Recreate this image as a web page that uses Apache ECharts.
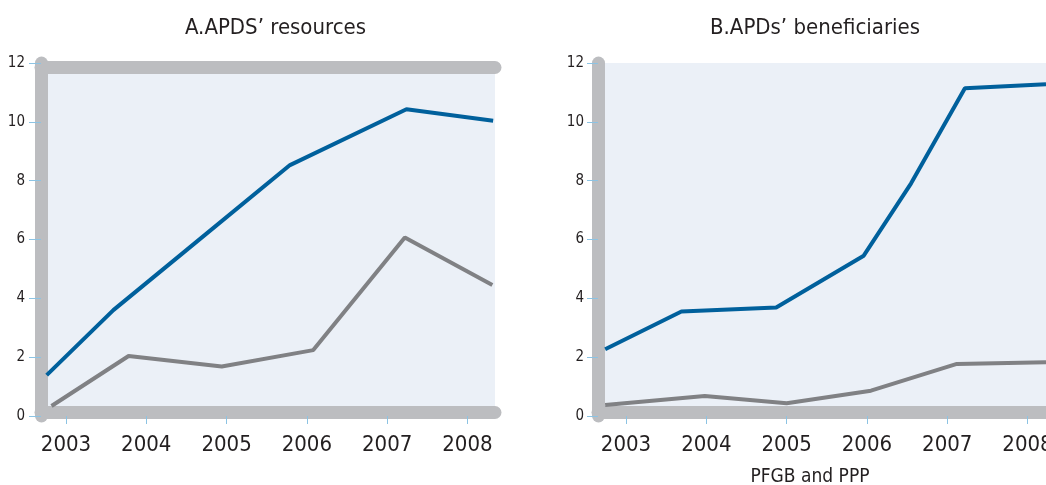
<!DOCTYPE html>
<html>
<head>
<meta charset="utf-8">
<script src="https://cdn.jsdelivr.net/npm/echarts@6/dist/echarts.min.js"></script>
<style>
  html, body { margin: 0; padding: 0; background: #fff; }
  #chart { width: 1046px; height: 485px; }
</style>
</head>
<body>
<div id="chart"></div>
<script>
const yearTicks = [2003, 2004, 2005, 2006, 2007, 2008]
const valueTicks = [0, 2, 4, 6, 8, 10, 12]

// A. resources (x = position in years)
const resBlueX = [2002.76, 2003.59, 2004.5, 2005.79, 2007.24, 2008.32]
const resBlueY = [1.39, 3.6, 5.64, 8.53, 10.43, 10.04]
const resGrayX = [2002.82, 2003.78, 2004.94, 2006.08, 2007.22, 2008.31]
const resGrayY = [0.34, 2.04, 1.68, 2.24, 6.07, 4.45]

// B. beneficiaries
const benBlueX = [2002.74, 2003.69, 2004.87, 2005.96, 2006.55, 2007.22, 2008.23]
const benBlueY = [2.27, 3.55, 3.69, 5.45, 7.91, 11.14, 11.28]
const benGrayX = [2002.74, 2003.98, 2005.0, 2006.05, 2007.12, 2008.23]
const benGrayY = [0.37, 0.68, 0.43, 0.86, 1.77, 1.83]

const FONT = "'Liberation Sans Narrow', 'DejaVu Sans Condensed', 'Roboto', sans-serif"
const TEXT = '#231f20'
const FRAME = '#bcbdc0'
const TICK = '#8cc3e3'
const BLUE = '#00609c'
const GRAY = '#808184'

const zip = (xs, ys) => xs.map((x, i) => [x, ys[i]])

const ranges = [
  { min: 2002.689, max: 2008.343 },
  { min: 2002.651, max: 2008.23 },
]

function tickAxis(grid) {
  return {
    type: 'value',
    gridIndex: grid,
    position: 'bottom',
    offset: 4,
    ...ranges[grid],
    axisLine: { show: false },
    axisTick: { show: true, length: 8, customValues: yearTicks, lineStyle: { color: TICK, width: 1 } },
    axisLabel: {
      customValues: yearTicks,
      formatter: (v) => String(v),
      margin: 14,
      color: TEXT,
      fontSize: 22,
      fontFamily: FONT,
    },
    splitLine: { show: false },
  }
}

function barAxis(grid, position, offset) {
  return {
    type: 'value',
    gridIndex: grid,
    position,
    offset,
    ...ranges[grid],
    axisLine: { show: true, lineStyle: { color: FRAME, width: 13, cap: 'round' } },
    axisTick: { show: false },
    axisLabel: { show: false },
    splitLine: { show: false },
  }
}

// frame bar on the left, ticks come from a second axis on top of it
function yBar(grid) {
  return {
    type: 'value',
    gridIndex: grid,
    position: 'left',
    min: 0,
    max: 12,
    interval: 2,
    axisLine: { show: true, lineStyle: { color: FRAME, width: 13, cap: 'round' } },
    axisTick: { show: false },
    axisLabel: { show: false },
    splitLine: { show: false },
  }
}

function valueAxis(grid, tickLen, margin) {
  return {
    type: 'value',
    gridIndex: grid,
    position: 'left',
    z: 2,
    min: 0,
    max: 12,
    interval: 2,
    axisLine: { show: false },
    axisTick: { show: true, length: tickLen, customValues: valueTicks, lineStyle: { color: TICK, width: 1 } },
    axisLabel: { customValues: valueTicks, margin, color: TEXT, fontSize: 15, fontFamily: FONT },
    splitLine: { show: false },
  }
}

function lineSeries(x, y, data, color) {
  return {
    type: 'line',
    xAxisIndex: x,
    yAxisIndex: y,
    data,
    showSymbol: false,
    lineStyle: { color, width: 4 },
    itemStyle: { color },
    z: 3,
  }
}

const chart = echarts.init(document.getElementById('chart'))

chart.setOption({
  animation: false,
  graphic: [
    { type: 'text', x: 275.5, y: 28, style: { text: 'A.APDS’ resources', fill: TEXT, font: '22px ' + FONT, align: 'center', verticalAlign: 'middle' } },
    { type: 'text', x: 815, y: 28, style: { text: 'B.APDs’ beneficiaries', fill: TEXT, font: '22px ' + FONT, align: 'center', verticalAlign: 'middle' } },
    { type: 'text', x: 810, y: 477, style: { text: 'PFGB and PPP', fill: TEXT, font: '19px ' + FONT, align: 'center', verticalAlign: 'middle' } },
  ],
  grid: [
    { left: 41, top: 63, width: 454, height: 353, show: true, backgroundColor: '#ebf0f7', borderWidth: 0, outerBoundsMode: 'none' },
    { left: 598, top: 63, width: 448, height: 353, show: true, backgroundColor: '#ebf0f7', borderWidth: 0, outerBoundsMode: 'none' },
  ],
  xAxis: [
    tickAxis(0),
    barAxis(0, 'bottom', -3.5),
    barAxis(0, 'top', -4),
    tickAxis(1),
    barAxis(1, 'bottom', -3.5),
  ],
  yAxis: [
    yBar(0),
    valueAxis(0, 12, 16),
    yBar(1),
    valueAxis(1, 11, 14),
  ],
  series: [
    lineSeries(0, 1, zip(resGrayX, resGrayY), GRAY),
    lineSeries(0, 1, zip(resBlueX, resBlueY), BLUE),
    lineSeries(3, 3, zip(benGrayX, benGrayY), GRAY),
    lineSeries(3, 3, zip(benBlueX, benBlueY), BLUE),
  ],
})
</script>
</body>
</html>
